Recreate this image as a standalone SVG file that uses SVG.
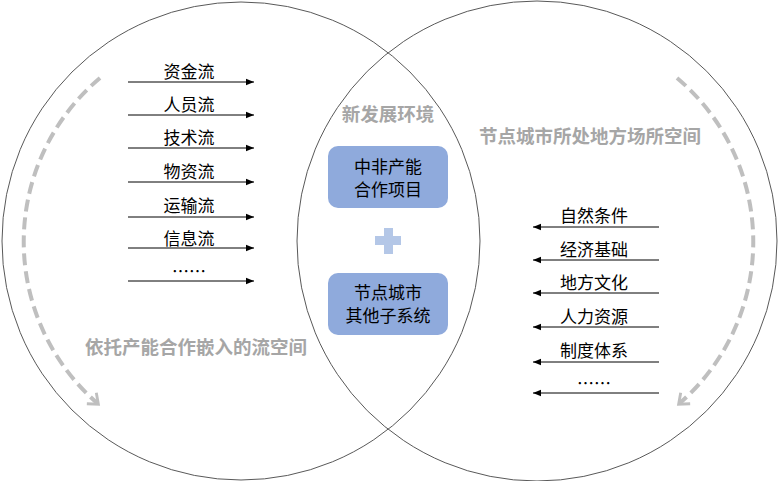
<svg xmlns="http://www.w3.org/2000/svg" width="779" height="481" viewBox="0 0 779 481">
<style>
.c{fill:none;stroke:#595959;stroke-width:1}
.t{font-family:"Noto Sans CJK SC",sans-serif;font-size:17px;fill:#000;text-anchor:middle}
.g{font-family:"Noto Sans CJK SC",sans-serif;font-size:18.5px;font-weight:bold;fill:#a6a6a6;text-anchor:middle}
.w{font-family:"Noto Sans CJK SC",sans-serif;font-size:17px;fill:#000;text-anchor:middle}
.a{stroke:#000;stroke-width:1;fill:none}
.d{fill:none;stroke:#bfbfbf;stroke-width:4;stroke-dasharray:12,6}
.b{fill:#8faadc}
</style>
<defs>
<marker id="ar" viewBox="0 0 10 10" refX="10" refY="5" markerWidth="8" markerHeight="8" markerUnits="userSpaceOnUse" orient="auto"><path d="M0,1 L10,5 L0,9 z" fill="#000"/></marker>
<marker id="da" viewBox="0 0 10 10" refX="5" refY="5" markerWidth="18" markerHeight="18" markerUnits="userSpaceOnUse" orient="auto"><path d="M1,1 L6,5 L1,9" fill="none" stroke="#bfbfbf" stroke-width="1.6"/></marker>
</defs>
<rect width="779" height="481" fill="#fff"/>
<circle class="c" cx="241" cy="241" r="239"/>
<circle class="c" cx="537" cy="241" r="240"/>
<path class="d" d="M100,78 A214,214 0 0 0 97,403" marker-end="url(#da)"/>
<path class="d" d="M677,78 A214,214 0 0 1 680,403" marker-end="url(#da)"/>
<g id="connectors">
<line class="a" x1="128" y1="82" x2="254" y2="82" marker-end="url(#ar)"/>
<line class="a" x1="128" y1="115" x2="254" y2="115" marker-end="url(#ar)"/>
<line class="a" x1="128" y1="148" x2="254" y2="148" marker-end="url(#ar)"/>
<line class="a" x1="128" y1="182" x2="254" y2="182" marker-end="url(#ar)"/>
<line class="a" x1="128" y1="217" x2="254" y2="217" marker-end="url(#ar)"/>
<line class="a" x1="128" y1="248" x2="254" y2="248" marker-end="url(#ar)"/>
<line class="a" x1="128" y1="281" x2="254" y2="281" marker-end="url(#ar)"/>
<line class="a" x1="659" y1="227" x2="533" y2="227" marker-end="url(#ar)"/>
<line class="a" x1="659" y1="260" x2="533" y2="260" marker-end="url(#ar)"/>
<line class="a" x1="659" y1="293" x2="533" y2="293" marker-end="url(#ar)"/>
<line class="a" x1="659" y1="327" x2="533" y2="327" marker-end="url(#ar)"/>
<line class="a" x1="659" y1="362" x2="533" y2="362" marker-end="url(#ar)"/>
<line class="a" x1="659" y1="393" x2="533" y2="393" marker-end="url(#ar)"/>
</g>
<g id="left-labels">
<text class="t" x="189" y="78">资金流</text>
<text class="t" x="189" y="111">人员流</text>
<text class="t" x="189" y="144">技术流</text>
<text class="t" x="189" y="178">物资流</text>
<text class="t" x="189" y="212">运输流</text>
<text class="t" x="189" y="245">信息流</text>
<text class="t" x="189" y="278">……</text>
</g>
<g id="right-labels">
<text class="t" x="594" y="222">自然条件</text>
<text class="t" x="594" y="256">经济基础</text>
<text class="t" x="594" y="289">地方文化</text>
<text class="t" x="594" y="323">人力资源</text>
<text class="t" x="594" y="357">制度体系</text>
<text class="t" x="594" y="390">……</text>
</g>
<text class="g" x="388" y="121">新发展环境</text>
<text class="g" x="590" y="143">节点城市所处地方场所空间</text>
<text class="g" x="196" y="354">依托产能合作嵌入的流空间</text>
<g id="node1">
<rect class="b" x="328" y="146" width="120" height="62" rx="10"/>
<text class="w" x="388" y="173">中非产能</text>
<text class="w" x="388" y="196">合作项目</text>
</g>
<g id="plus">
<rect x="375" y="236" width="26" height="9" fill="#b4c7e7"/>
<rect x="384" y="228" width="9" height="26" fill="#b4c7e7"/>
</g>
<g id="node2">
<rect class="b" x="328" y="273" width="120" height="62" rx="10"/>
<text class="w" x="388" y="299">节点城市</text>
<text class="w" x="388" y="322">其他子系统</text>
</g>
</svg>
